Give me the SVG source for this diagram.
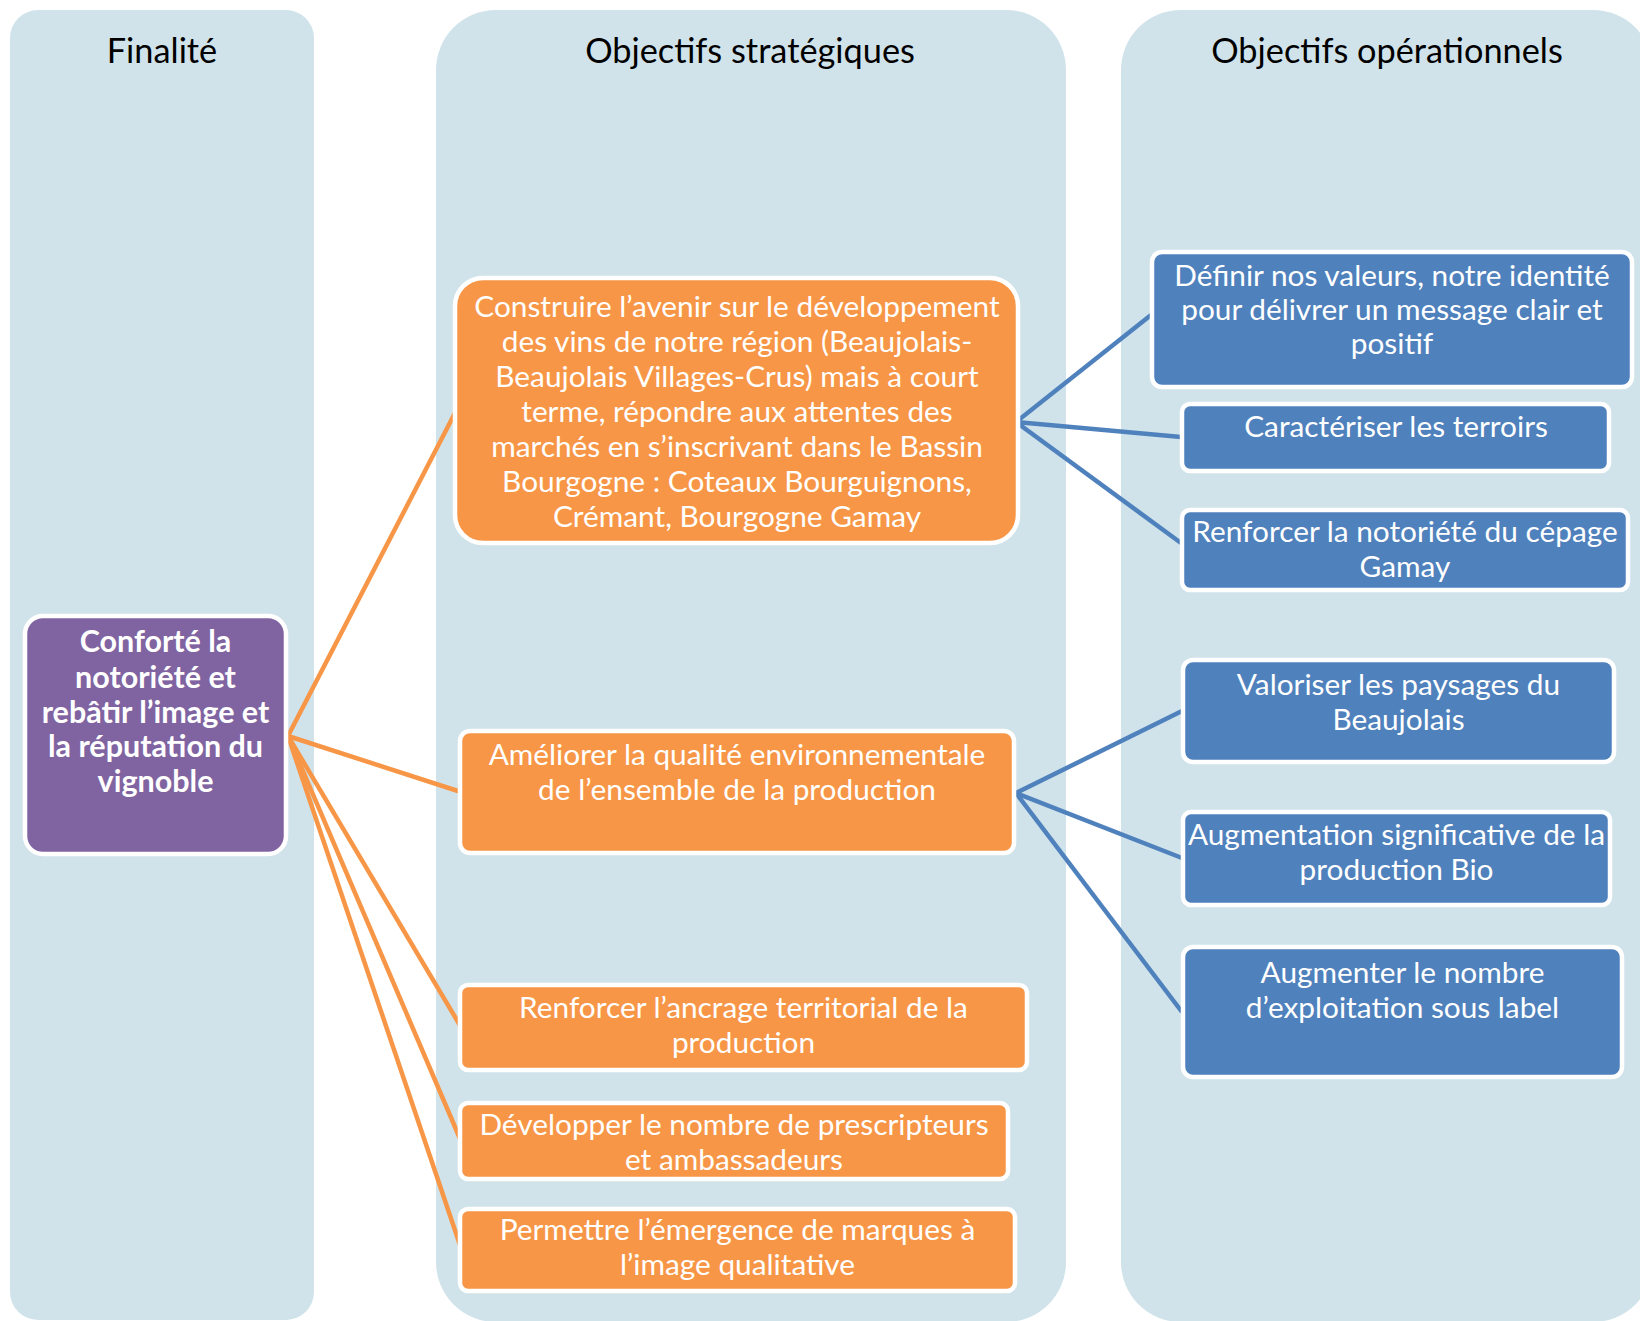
<svg xmlns="http://www.w3.org/2000/svg" width="1640" height="1321" viewBox="0 0 1640 1321">
<style>
.col{fill:#D0E3EA}
.title{font-family:Lato,"Open Sans","Liberation Sans",sans-serif;font-size:34.3px;fill:#000;text-anchor:middle}
.t{font-family:Lato,"Open Sans","Liberation Sans",sans-serif;font-size:29.8px;fill:#fff;text-anchor:middle}
.tb{font-family:Lato,"Open Sans","Liberation Sans",sans-serif;font-size:30.5px;font-weight:bold;fill:#fff;text-anchor:middle}
.or{fill:#F79646;stroke:#fff;stroke-width:4.5}
.bl{fill:#4F81BD;stroke:#fff;stroke-width:4.5}
.pu{fill:#8064A2;stroke:#fff;stroke-width:4.5}
.co{stroke:#F79646;stroke-width:4.5;fill:none}
.cb{stroke:#4F81BD;stroke-width:4.5;fill:none}
</style>
<rect width="1640" height="1321" fill="#fff"/>
<g id="columns">
<rect class="col" x="10" y="10" width="304" height="1310" rx="28"/>
<rect class="col" x="436" y="10" width="630" height="1312" rx="60"/>
<rect class="col" x="1121" y="10" width="532" height="1312" rx="60"/>
<text class="title" x="162" y="63">Finalité</text>
<text class="title" x="750" y="63">Objectifs stratégiques</text>
<text class="title" x="1387" y="63">Objectifs opérationnels</text>
</g>
<g id="connectors">
<line class="co" x1="288" y1="736" x2="456" y2="411"/>
<line class="co" x1="288" y1="736" x2="461" y2="792"/>
<line class="co" x1="288" y1="736" x2="461" y2="1027"/>
<line class="co" x1="288" y1="736" x2="461" y2="1141"/>
<line class="co" x1="288" y1="736" x2="461" y2="1248"/>
<line class="cb" x1="1016" y1="422" x2="1151" y2="315"/>
<line class="cb" x1="1016" y1="422" x2="1181" y2="437"/>
<line class="cb" x1="1016" y1="422" x2="1181" y2="543"/>
<line class="cb" x1="1016" y1="793" x2="1182" y2="711"/>
<line class="cb" x1="1016" y1="793" x2="1182" y2="858"/>
<line class="cb" x1="1016" y1="793" x2="1182" y2="1012"/>
</g>
<g id="finalite">
<rect class="pu" x="25" y="616" width="261" height="238" rx="18"/>
<text class="tb" x="155.5" y="652">Conforté la</text>
<text class="tb" x="155.5" y="688">notoriété et</text>
<text class="tb" x="155.5" y="723">rebâtir l’image et</text>
<text class="tb" x="155.5" y="757">la réputation du</text>
<text class="tb" x="155.5" y="792">vignoble</text>
</g>
<g id="strat1">
<rect class="or" x="455" y="278" width="563" height="265" rx="28"/>
<text class="t" x="737" y="317">Construire l’avenir sur le développement</text>
<text class="t" x="737" y="352">des vins de notre région (Beaujolais-</text>
<text class="t" x="737" y="387">Beaujolais Villages-Crus) mais à court</text>
<text class="t" x="737" y="422">terme, répondre aux attentes des</text>
<text class="t" x="737" y="457">marchés en s’inscrivant dans le Bassin</text>
<text class="t" x="737" y="492">Bourgogne : Coteaux Bourguignons,</text>
<text class="t" x="737" y="527">Crémant, Bourgogne Gamay</text>
</g>
<g id="strat2">
<rect class="or" x="460" y="731" width="554" height="122" rx="10"/>
<text class="t" x="737" y="765">Améliorer la qualité environnementale</text>
<text class="t" x="737" y="800">de l’ensemble de la production</text>
</g>
<g id="strat3">
<rect class="or" x="460" y="985" width="567" height="85" rx="8"/>
<text class="t" x="743.5" y="1018">Renforcer l’ancrage territorial de la</text>
<text class="t" x="743.5" y="1053">production</text>
</g>
<g id="strat4">
<rect class="or" x="460" y="1103" width="548" height="76" rx="8"/>
<text class="t" x="734" y="1135">Développer le nombre de prescripteurs</text>
<text class="t" x="734" y="1170">et ambassadeurs</text>
</g>
<g id="strat5">
<rect class="or" x="460" y="1209" width="555" height="82" rx="8"/>
<text class="t" x="737.5" y="1240">Permettre l’émergence de marques à</text>
<text class="t" x="737.5" y="1275">l’image qualitative</text>
</g>
<g id="op1">
<rect class="bl" x="1152" y="252" width="480" height="135" rx="10"/>
<text class="t" x="1392" y="286">Définir nos valeurs, notre identité</text>
<text class="t" x="1392" y="320">pour délivrer un message clair et</text>
<text class="t" x="1392" y="354">positif</text>
</g>
<g id="op2">
<rect class="bl" x="1182" y="404" width="427" height="67" rx="8"/>
<text class="t" x="1396" y="437">Caractériser les terroirs</text>
</g>
<g id="op3">
<rect class="bl" x="1182" y="510" width="446" height="80" rx="8"/>
<text class="t" x="1405" y="542">Renforcer la notoriété du cépage</text>
<text class="t" x="1405" y="577">Gamay</text>
</g>
<g id="op4">
<rect class="bl" x="1183" y="660" width="431" height="102" rx="10"/>
<text class="t" x="1398.5" y="695">Valoriser les paysages du</text>
<text class="t" x="1398.5" y="730">Beaujolais</text>
</g>
<g id="op5">
<rect class="bl" x="1183" y="812" width="427" height="93" rx="8"/>
<text class="t" x="1396.5" y="845">Augmentation significative de la</text>
<text class="t" x="1396.5" y="880">production Bio</text>
</g>
<g id="op6">
<rect class="bl" x="1183" y="947" width="439" height="130" rx="10"/>
<text class="t" x="1402.5" y="983">Augmenter le nombre</text>
<text class="t" x="1402.5" y="1018">d’exploitation sous label</text>
</g>
</svg>
